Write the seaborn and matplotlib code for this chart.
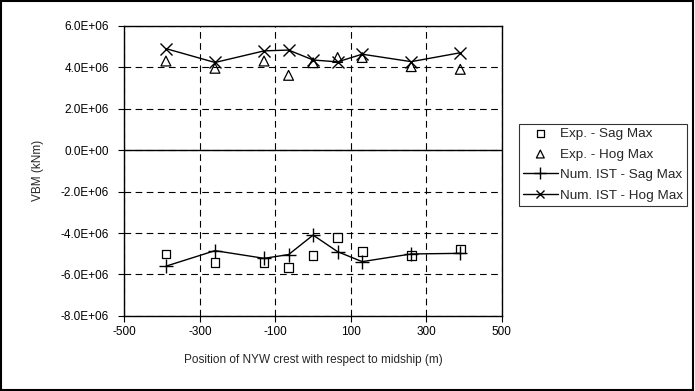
import numpy as np
import pandas as pd
import matplotlib
matplotlib.use("Agg")
import matplotlib.pyplot as plt
import seaborn as sns
from matplotlib.ticker import FuncFormatter

# crest positions (m) and measured / computed VBM (kNm)
positions = [-390, -260, -130, -65, 0, 65, 130, 260, 390]
exp_sag = [-5.01e6, -5.41e6, -5.41e6, -5.65e6, -5.08e6, -4.21e6, -4.90e6, -5.09e6, -4.77e6]
exp_hog = [4.30e6, 3.95e6, 4.30e6, 3.61e6, 4.22e6, 4.47e6, 4.47e6, 4.03e6, 3.90e6]
num_sag = [-5.60e6, -4.85e6, -5.22e6, -5.04e6, -4.10e6, -4.90e6, -5.38e6, -5.01e6, -4.98e6]
num_hog = [4.90e6, 4.23e6, 4.79e6, 4.83e6, 4.35e6, 4.26e6, 4.63e6, 4.27e6, 4.70e6]

df = pd.DataFrame({"pos": positions, "exp_sag": exp_sag, "exp_hog": exp_hog,
                   "num_sag": num_sag, "num_hog": num_hog})

sns.set_theme(style="white")
plt.rcParams["font.family"] = ["Liberation Sans", "DejaVu Sans"]
plt.rcParams["font.size"] = 8.5
plt.rcParams["axes.unicode_minus"] = False

fig = plt.figure(figsize=(6.95, 3.91), dpi=100)
ax = fig.add_axes([0.179, 0.192, 0.543, 0.742])

sns.scatterplot(data=df, x="pos", y="exp_sag", ax=ax, marker="s", s=40,
                facecolor="none", edgecolor="black", linewidth=0.9,
                label="Exp. - Sag Max", zorder=3)
sns.scatterplot(data=df, x="pos", y="exp_hog", ax=ax, marker="^", s=50,
                facecolor="none", edgecolor="black", linewidth=0.9,
                label="Exp. - Hog Max", zorder=3)
sns.lineplot(data=df, x="pos", y="num_sag", ax=ax, color="black", linewidth=1.0,
             marker="+", markersize=10, markeredgewidth=1.0, markeredgecolor="black",
             label="Num. IST - Sag Max", zorder=3)
sns.lineplot(data=df, x="pos", y="num_hog", ax=ax, color="black", linewidth=1.0,
             marker="x", markersize=8, markeredgewidth=1.0, markeredgecolor="black",
             label="Num. IST - Hog Max", zorder=3)

ax.set_xlim(-500, 500)
ax.set_ylim(-8e6, 6e6)
ax.set_xticks(np.arange(-500, 501, 200))
ax.set_yticks(np.arange(-8e6, 6.01e6, 2e6))
ax.yaxis.set_major_formatter(FuncFormatter(lambda v, p: f"{v:.1E}"))
ax.grid(True, color="black", linestyle=(0, (6, 4)), linewidth=0.8)
ax.axhline(0, color="black", linewidth=1.0, zorder=2)
for sp in ax.spines.values():
    sp.set_color("black")
    sp.set_linewidth(1.0)
ax.tick_params(axis="both", direction="out", length=4, width=0.8, color="black",
               labelsize=8.5, labelcolor="black", left=True, bottom=True)
ax.tick_params(axis="y", pad=7)
ax.set_xlabel("Position of NYW crest with respect to midship (m)", fontsize=8.5, labelpad=11)
ax.set_ylabel("VBM (kNm)", fontsize=8.5, labelpad=12)

leg = ax.legend(loc="upper left", bbox_to_anchor=(1.045, 0.663), frameon=True,
                fancybox=False, edgecolor="black", fontsize=9.7, handlelength=2.6,
                borderpad=0.3, labelspacing=0.6, handletextpad=0.15,
                borderaxespad=0, markerscale=0.8)
leg.get_frame().set_linewidth(0.8)

fig.patches.append(plt.Rectangle((0.002, 0.003), 0.995, 0.994, transform=fig.transFigure,
                                 fill=False, edgecolor="black", linewidth=1.5))

fig.savefig("out.png", dpi=100)
